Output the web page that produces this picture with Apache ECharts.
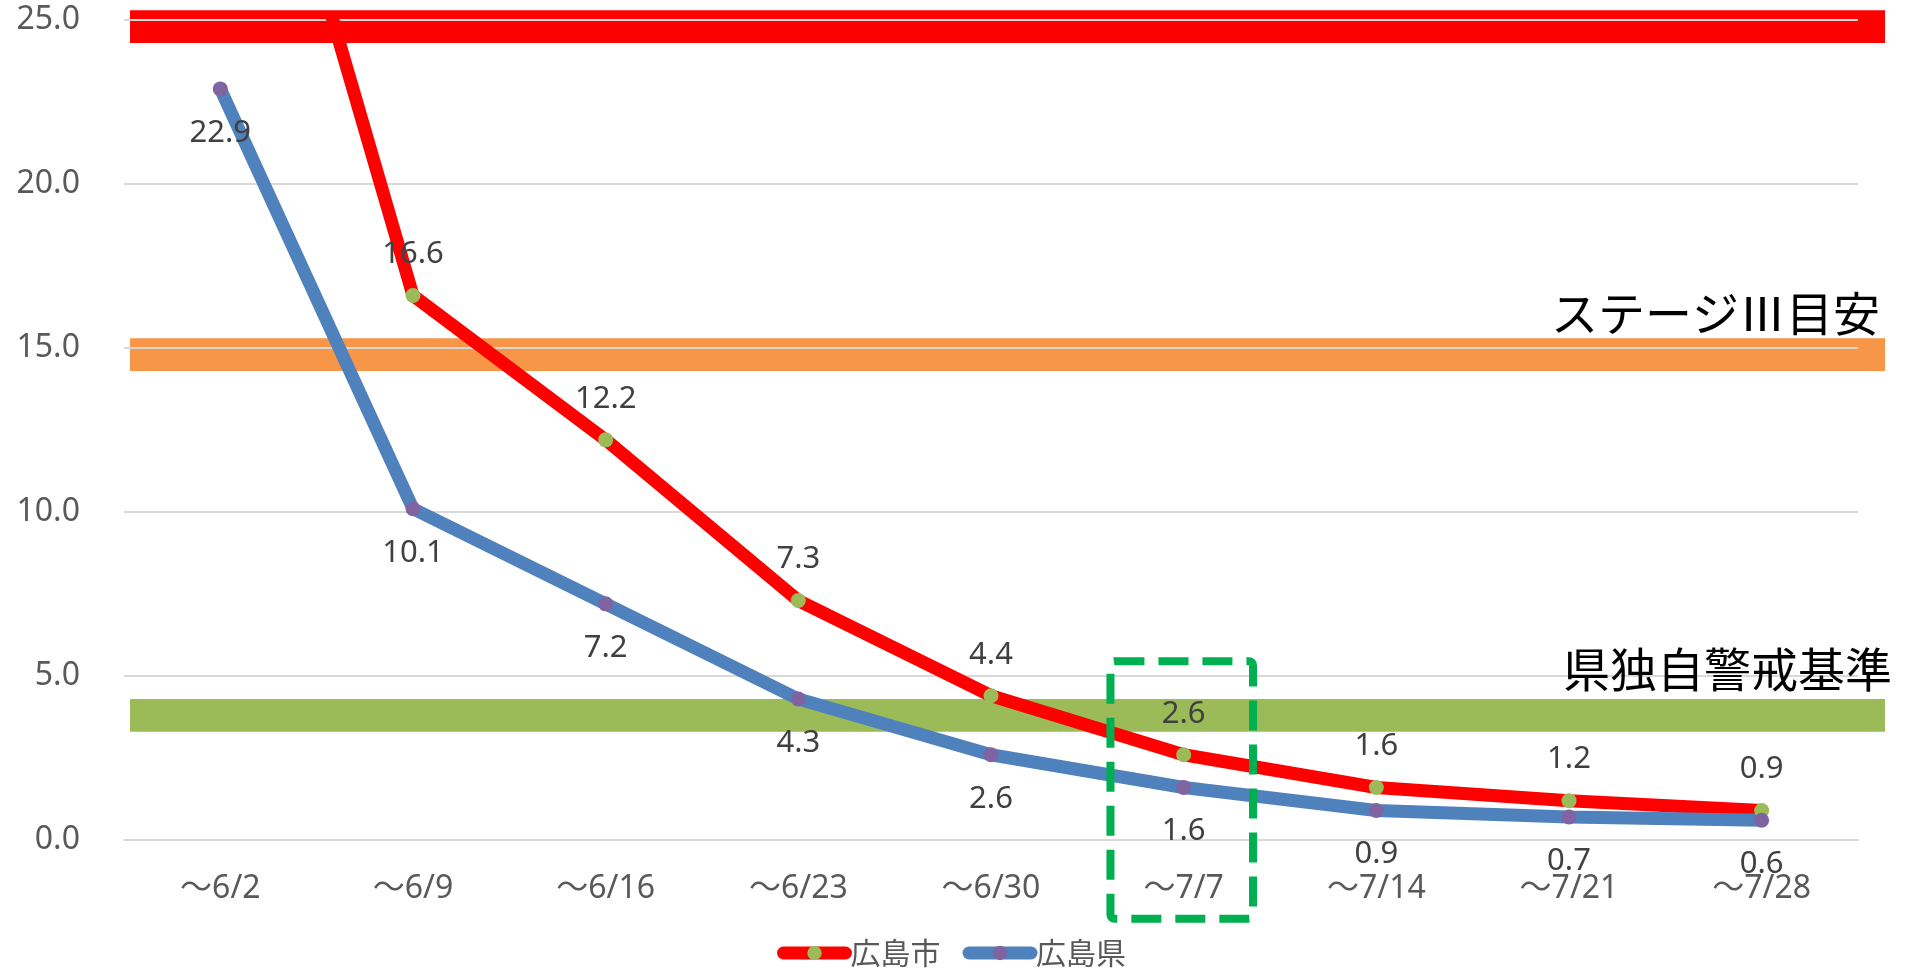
<!DOCTYPE html>
<html>
<head>
<meta charset="utf-8">
<script src="https://cdn.jsdelivr.net/npm/echarts/dist/echarts.min.js"></script>
<style>
html,body{margin:0;padding:0;background:#ffffff;}
#chart{width:1912px;height:971px;}
</style>
</head>
<body>
<div id="chart"></div>
<script>
// ---- data ----
const categories = ['〜6/2', '〜6/9', '〜6/16', '〜6/23', '〜6/30', '〜7/7', '〜7/14', '〜7/21', '〜7/28'];
const cityValues = [36.8, 16.6, 12.2, 7.3, 4.4, 2.6, 1.6, 1.2, 0.9];   // 広島市
const prefValues = [22.9, 10.1, 7.2, 4.3, 2.6, 1.6, 0.9, 0.7, 0.6];    // 広島県
const seriesNames = ['広島市', '広島県'];
const yMin = 0;
const yMax = 25;
const yInterval = 5;
const topBand = [24.3, 25.3];
const stage3Band = [14.3, 15.3];
const alertBand = [3.3, 4.3];
const bandTexts = ['ステージⅢ目安', '県独自警戒基準'];
const highlightCategory = '〜7/7';
const highlightRange = [5.45, -2.4];

// ---- styles ----
const FONT = '"Noto Sans", "Noto Sans CJK JP", sans-serif';
const JFONT = '"Noto Sans CJK JP", "Noto Sans", sans-serif';
const GRID = {left: 124, right: 54, top: 20, bottom: 131};

const chart = echarts.init(document.getElementById('chart'), null, {renderer: 'canvas'});

const fmt = p => Number(p.value).toFixed(1);

chart.setOption({
  animation: false,
  backgroundColor: '#ffffff',
  grid: GRID,
  legend: {
    data: seriesNames,
    left: 772,
    top: 933,
    itemWidth: 62,
    itemHeight: 18,
    itemGap: 22,
    lineStyle: {width: 13, cap: 'round'},
    textStyle: {fontSize: 30, color: '#595959', fontFamily: JFONT}
  },
  xAxis: {
    type: 'category',
    data: categories,
    boundaryGap: true,
    axisLine: {show: true, lineStyle: {color: '#D9D9D9', width: 2}},
    axisTick: {show: false},
    axisLabel: {fontSize: 32, color: '#595959', margin: 33, lineHeight: 32, fontFamily: FONT, interval: 0}
  },
  yAxis: {
    type: 'value',
    min: yMin,
    max: yMax,
    interval: yInterval,
    axisLine: {show: false},
    axisTick: {show: false},
    axisLabel: {fontSize: 32, color: '#595959', margin: 44, fontFamily: FONT, formatter: v => v.toFixed(1)},
    splitLine: {lineStyle: {color: '#D9D9D9', width: 2}}
  },
  series: [
    {
      name: seriesNames[0],
      type: 'line',
      data: cityValues.map((v, i) => (v > yMax ? {value: v, label: {show: false}} : v)),
      symbol: 'circle',
      symbolSize: 15,
      showAllSymbol: true,
      lineStyle: {color: '#FF0000', width: 13},
      itemStyle: {color: '#9BBB59'},
      label: {show: true, position: 'top', distance: 18, fontSize: 31, color: '#404040', fontFamily: FONT, formatter: fmt},
      z: 3
    },
    {
      name: seriesNames[1],
      type: 'line',
      data: prefValues,
      symbol: 'circle',
      symbolSize: 15,
      showAllSymbol: true,
      lineStyle: {color: '#4F81BD', width: 13},
      itemStyle: {color: '#8064A2'},
      label: {show: true, position: 'bottom', distance: 21, fontSize: 31, color: '#404040', fontFamily: FONT, formatter: fmt},
      z: 3
    }
  ]
});

// ---- annotations placed through the chart's own scales ----
const toY = v => chart.convertToPixel({yAxisIndex: 0}, v);
const toXIdx = i => chart.convertToPixel({xAxisIndex: 0}, categories[i]);
const W = chart.getWidth();
const bandLeft = GRID.left + 6;
const bandRight = W - GRID.right + 27;

function bandRect(range, color) {
  const y1 = toY(range[1]);
  const y0 = toY(range[0]);
  return {
    type: 'rect', z: -1, silent: true,
    shape: {x: bandLeft, y: y1, width: bandRight - bandLeft, height: y0 - y1},
    style: {fill: color}
  };
}

const hiIdx = categories.indexOf(highlightCategory);
const cx = toXIdx(hiIdx);
const bw = toXIdx(hiIdx + 1) - cx;
const boxTop = toY(highlightRange[0]);
const boxBottom = toY(highlightRange[1]);
const boxLeft = cx - 0.38 * bw;
const boxRight = cx + 0.36 * bw;

chart.setOption({
  graphic: [
    bandRect(topBand, '#FF0000'),
    bandRect(stage3Band, '#F79646'),
    bandRect(alertBand, '#9BBB59'),
    {
      type: 'text', z: 50, silent: true,
      style: {
        text: bandTexts[0], x: W - GRID.right + 22, y: toY(stage3Band[1]) - 25,
        align: 'right', verticalAlign: 'middle',
        fontSize: 47, fontFamily: JFONT, fill: '#000000'
      }
    },
    {
      type: 'text', z: 50, silent: true,
      style: {
        text: bandTexts[1], x: W - GRID.right + 34, y: toY(alertBand[1]) - 30,
        align: 'right', verticalAlign: 'middle',
        fontSize: 47, fontFamily: JFONT, fill: '#000000'
      }
    },
    {
      type: 'rect', z: 100, silent: true,
      shape: {x: boxLeft, y: boxTop, width: boxRight - boxLeft, height: boxBottom - boxTop, r: 4},
      style: {fill: null, stroke: '#00B050', lineWidth: 8, lineDash: [30, 14]}
    }
  ]
});
</script>
</body>
</html>
